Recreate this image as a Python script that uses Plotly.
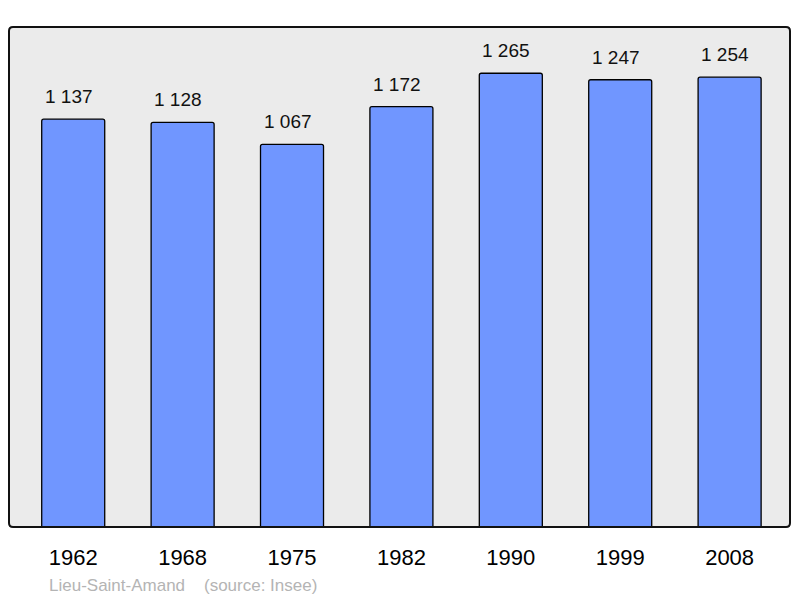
import plotly.graph_objects as go

years = ["1962", "1968", "1975", "1982", "1990", "1999", "2008"]
population = [1137, 1128, 1067, 1172, 1265, 1247, 1254]
labels = ["1 137", "1 128", "1 067", "1 172", "1 265", "1 247", "1 254"]
caption = "Lieu-Saint-Amand    (source: Insee)"

W, H = 800, 598
L, R, T, B = 9, 10, 27, 71
pw, ph = W - L - R, H - T - B

fig = go.Figure()
fig.add_trace(go.Bar(
    x=years, y=population, width=0.576,
    marker=dict(color="#7096ff", line=dict(color="#000000", width=1.3), cornerradius=2),
    hoverinfo="skip",
))

for i, (v, t) in enumerate(zip(population, labels)):
    fig.add_annotation(x=i, y=v, text=t, showarrow=False, yanchor="bottom",
                       yshift=10, xshift=-4.5, font=dict(size=19, color="#111111"))

fig.add_annotation(xref="paper", yref="paper", x=(47 - L) / pw, y=(T + ph - 585) / ph,
                   xanchor="left", yanchor="middle", text=caption, showarrow=False,
                   font=dict(size=17, color="#b4b4b4"))

# rounded border
rx, ry = 4 / pw, 4 / ph
path = (f"M {rx},0 L {1-rx},0 Q 1,0 1,{ry} L 1,{1-ry} Q 1,1 {1-rx},1 "
        f"L {rx},1 Q 0,1 0,{1-ry} L 0,{ry} Q 0,0 {rx},0 Z")
fig.add_shape(type="path", xref="paper", yref="paper", path=path,
              line=dict(color="#111111", width=2), layer="above")

fig.update_layout(
    width=W, height=H,
    margin=dict(l=L, r=R, t=T, b=B),
    paper_bgcolor="#ffffff", plot_bgcolor="#ebebeb",
    font=dict(family="Liberation Sans, Arial, sans-serif", color="#000000"),
    showlegend=False,
    xaxis=dict(type="category", range=[-0.587, 6.552], showgrid=False, zeroline=False,
               showline=False, ticks="", tickfont=dict(size=22, color="#000000"),
               ticklabelstandoff=15, fixedrange=True),
    yaxis=dict(range=[0, 1394], showgrid=False, zeroline=False, showline=False,
               showticklabels=False, ticks="", fixedrange=True),
)

fig.write_html("out.html", config={"displayModeBar": False},
               post_script="document.body.style.margin='0';")
